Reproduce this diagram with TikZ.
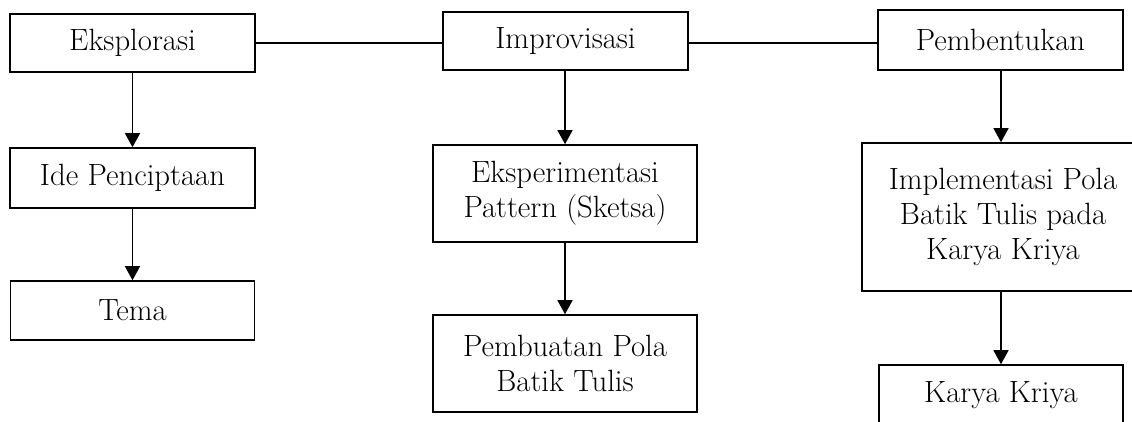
\documentclass[tikz,border=0pt]{standalone}
\usetikzlibrary{arrows.meta}

\begin{document}
\begin{tikzpicture}[
	kotak/.style = {draw, line width=0.9pt, align=center, inner sep=2pt,
		font=\fontsize{17.5}{19.9}\selectfont},
	panah/.style = {-{Triangle[length=0.28cm, width=0.3cm]}, line width=0.75pt},
	garis/.style = {line width=0.75pt}
	]
	
	\useasboundingbox (0,0) rectangle (22.64,-8.42);
	
	% baris atas
	\node[kotak, minimum width=4.9cm, minimum height=1.16cm] (eks) at (2.65, -0.86) {Eksplorasi};
	\node[kotak, minimum width=4.9cm, minimum height=1.16cm] (imp) at (11.31, -0.82) {Improvisasi};
	\node[kotak, minimum width=4.9cm, minimum height=1.2cm] (bent) at (20.01, -0.8) {Pembentukan};
	
	\draw[garis] (eks.east) -- (eks.east -| imp.west);
	\draw[garis] (eks.east -| imp.east) -- (eks.east -| bent.west);
	
	% kolom kiri
	\node[kotak, minimum width=4.9cm, minimum height=1.2cm] (ide) at (2.65, -3.56) {Ide Penciptaan};
	\node[kotak, minimum width=4.88cm, minimum height=1.18cm] (tema) at (2.65, -6.21) {Tema};
	
	\draw[panah] (eks) -- (ide);
	\draw[panah] (ide) -- (tema);
	
	% kolom tengah
	\node[kotak, minimum width=5.28cm, minimum height=1.94cm] (eksp) at (11.3, -3.87) {Eksperimentasi\\Pattern (Sketsa)};
	\node[kotak, minimum width=5.28cm, minimum height=1.94cm] (pola) at (11.3, -7.27) {Pembuatan Pola\\Batik Tulis};
	
	\draw[panah] (imp.south -| eksp.north) -- (eksp);
	\draw[panah] (eksp) -- (pola);
	
	% kolom kanan
	\node[kotak, minimum width=5.64cm, minimum height=2.96cm] (impl) at (20.06, -4.34) {Implementasi Pola\\Batik Tulis pada\\Karya Kriya};
	\node[kotak, minimum width=4.88cm, minimum height=1.2cm] (karya) at (20.02, -7.9) {Karya Kriya};
	
	\draw[panah] (bent.south -| karya.north) -- (impl.north -| karya.north);
	\draw[panah] (impl.south -| karya.north) -- (karya);
	
\end{tikzpicture}
\end{document}
